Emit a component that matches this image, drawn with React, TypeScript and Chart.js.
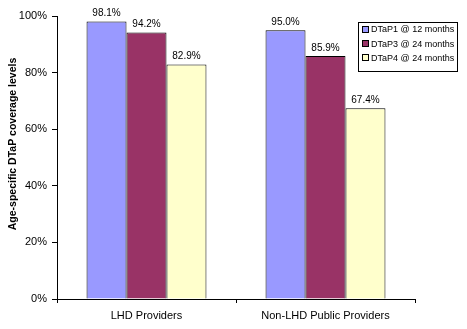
import React, { useEffect, useRef } from "react";
import { Chart, registerables } from "chart.js";

Chart.register(...registerables);

const categories = ["LHD Providers", "Non-LHD Public Providers"];
const seriesLabels = ["DTaP1 @ 12 months", "DTaP3 @ 24 months", "DTaP4 @ 24 months"];
const dtap1 = [98.1, 95.0];
const dtap3 = [94.2, 85.9];
const dtap4 = [82.9, 67.4];
const seriesColors = ["#9999FF", "#993366", "#FFFFCC"];
const yTicks = [0, 20, 40, 60, 80, 100];
const yTitle = "Age-specific DTaP coverage levels";

const FONT = "'Liberation Sans', Arial, sans-serif";

const valueLabels = {
  id: "valueLabels",
  afterDatasetsDraw(chart: any) {
    const ctx = chart.ctx;
    ctx.save();
    ctx.font = `10px ${FONT}`;
    ctx.fillStyle = "#000";
    ctx.textAlign = "center";
    ctx.textBaseline = "alphabetic";
    chart.data.datasets.forEach((ds: any, i: number) => {
      const meta = chart.getDatasetMeta(i);
      meta.data.forEach((bar: any, j: number) => {
        ctx.fillText(ds.data[j].toFixed(1) + "%", bar.x, bar.y - 5);
      });
    });
    ctx.restore();
  },
};

const sideTitle = {
  id: "sideTitle",
  afterDraw(chart: any) {
    const ctx = chart.ctx;
    ctx.save();
    ctx.translate(13, 144);
    ctx.rotate(-Math.PI / 2);
    ctx.font = `bold 10.5px ${FONT}`;
    ctx.fillStyle = "#000";
    ctx.textAlign = "center";
    ctx.textBaseline = "middle";
    ctx.fillText(yTitle, 0, 0);
    ctx.restore();
  },
};

const boxLegend = {
  id: "boxLegend",
  afterDraw(chart: any) {
    const ctx = chart.ctx;
    const x = 358.5, y = 22.5, w = 99, h = 49;
    ctx.save();
    ctx.fillStyle = "#fff";
    ctx.fillRect(x, y, w, h);
    ctx.strokeStyle = "#000";
    ctx.lineWidth = 1;
    ctx.strokeRect(x, y, w, h);
    ctx.font = `9px ${FONT}`;
    ctx.textBaseline = "middle";
    ctx.textAlign = "left";
    chart.data.datasets.forEach((ds: any, i: number) => {
      const cy = 29.5 + i * 14.2;
      ctx.fillStyle = ds.backgroundColor;
      ctx.fillRect(362.5, Math.round(cy) - 3.5, 6, 6);
      ctx.strokeStyle = "#000";
      ctx.strokeRect(362.5, Math.round(cy) - 3.5, 6, 6);
      ctx.fillStyle = "#000";
      ctx.fillText(ds.label, 371, cy + 0.5);
    });
    ctx.restore();
  },
};

export default function App() {
  const ref = useRef<HTMLCanvasElement>(null);
  useEffect(() => {
    document.body.style.margin = "0";
    const datasets = [dtap1, dtap3, dtap4].map((d, i) => ({
      label: seriesLabels[i],
      data: d,
      backgroundColor: seriesColors[i],
      borderColor: "#000",
      borderWidth: 1,
      borderSkipped: "bottom" as const,
      barPercentage: 1,
      categoryPercentage: 0.67,
    }));
    const chart = new Chart(ref.current!, {
      type: "bar",
      data: { labels: categories, datasets },
      options: {
        animation: false,
        responsive: false,
        maintainAspectRatio: false,
        layout: { padding: { left: 0, right: 52, top: 16, bottom: 0 } },
        plugins: { legend: { display: false }, tooltip: { enabled: false } },
        scales: {
          x: {
            grid: { drawOnChartArea: false, color: "#000", tickLength: 4, offset: true },
            border: { color: "#000", width: 1 },
            ticks: { color: "#000", font: { family: FONT, size: 11 }, padding: 6 },
            afterFit: (s: any) => { s.height = 30; },
          },
          y: {
            min: 0,
            max: 100,
            afterBuildTicks: (s: any) => { s.ticks = yTicks.map((v) => ({ value: v })); },
            grid: { drawOnChartArea: false, color: "#000", tickLength: 5 },
            border: { color: "#000", width: 1 },
            ticks: {
              color: "#000",
              font: { family: FONT, size: 11 },
              padding: 5,
              callback: (v: any) => v + "%",
            },
            title: { display: false },
            afterFit: (s: any) => { s.width = 57; },
          },
        },
      },
      plugins: [valueLabels, sideTitle, boxLegend],
    });
    return () => chart.destroy();
  }, []);
  return <canvas ref={ref} width={467} height={329} style={{ display: "block" }} />;
}
